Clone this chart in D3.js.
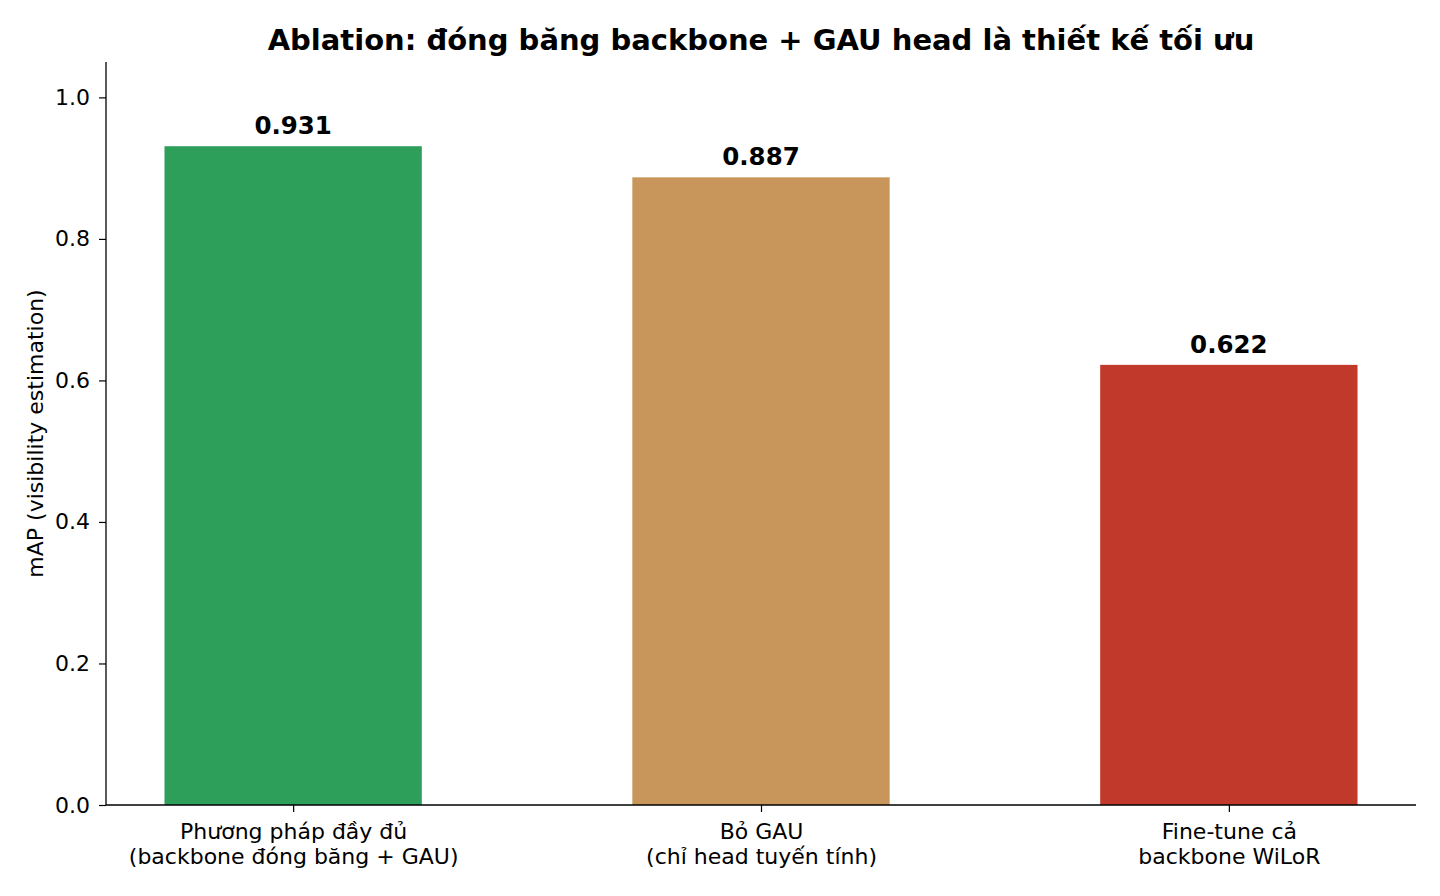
<!DOCTYPE html>
<head>
  <meta charset="utf-8">
  <script src="https://d3js.org/d3.v7.min.js"></script>
  <style>
    body { margin: 0; background: #fff; }
    text { font-family: "DejaVu Sans", sans-serif; }
  </style>
</head>
<body>
  <script type="text/javascript">
    var w = 1440;
    var h = 896;

    var categories = [
      ["Phương pháp đầy đủ", "(backbone đóng băng + GAU)"],
      ["Bỏ GAU", "(chỉ head tuyến tính)"],
      ["Fine-tune cả", "backbone WiLoR"]
    ];
    var values = [0.931, 0.887, 0.622];
    var barColors = ["#2e9e5b", "#c8965a", "#c0392b"];
    var yTicks = [0.0, 0.2, 0.4, 0.6, 0.8, 1.0];

    var padL = 106, padR = 1416, padT = 62, padB = 805;

    var svg = d3.select("body")
      .append("svg")
      .attr("width", w)
      .attr("height", h);

    var xScale = d3.scaleLinear()
                   .domain([-0.4, 2.4])
                   .range([padL, padR]);

    var yScale = d3.scaleLinear()
                   .domain([0, 1.05])
                   .range([padB, padT]);

    var barW = xScale(0.55) - xScale(0);

    svg.selectAll("rect.bar")
      .data(values)
      .enter()
      .append("rect")
      .attr("class", "bar")
      .attr("x", function(d, i){ return xScale(i) - barW / 2; })
      .attr("y", function(d){ return yScale(d); })
      .attr("width", barW)
      .attr("height", function(d){ return padB - yScale(d); })
      .attr("fill", function(d, i){ return barColors[i]; });

    // value labels
    svg.selectAll("text.val")
      .data(values)
      .enter()
      .append("text")
      .attr("class", "val")
      .attr("x", function(d, i){ return xScale(i); })
      .attr("y", function(d){ return yScale(d) - 12; })
      .attr("text-anchor", "middle")
      .attr("font-size", "24.5px")
      .attr("font-weight", "bold")
      .text(function(d){ return d.toFixed(3); });

    // y axis
    var yAxis = d3.axisLeft(yScale)
                  .tickValues(yTicks)
                  .tickSize(7)
                  .tickPadding(9)
                  .tickFormat(d3.format(".1f"));
    var gy = svg.append("g")
      .attr("transform", "translate(" + padL + ",0)")
      .call(yAxis);
    gy.select(".domain").attr("stroke", "#000").attr("stroke-width", 1.3)
      .attr("d", "M0," + padB + "V" + padT);
    gy.selectAll(".tick line").attr("stroke", "#000").attr("stroke-width", 1.2);
    gy.selectAll(".tick text").attr("font-size", "22px").attr("fill", "#000")
      .attr("font-family", "DejaVu Sans");

    // x axis
    var xAxis = d3.axisBottom(xScale)
                  .tickValues(d3.range(categories.length))
                  .tickSize(7)
                  .tickFormat("");
    var gx = svg.append("g")
      .attr("transform", "translate(0," + padB + ")")
      .call(xAxis);
    gx.select(".domain").attr("stroke", "#000").attr("stroke-width", 1.3)
      .attr("d", "M" + padL + ",0H" + padR);
    gx.selectAll(".tick line").attr("stroke", "#000").attr("stroke-width", 1.2);

    gx.selectAll(".tick").each(function(d, i){
      var t = d3.select(this).append("text")
        .attr("text-anchor", "middle")
        .attr("fill", "#000")
        .attr("font-size", "22px")
        .attr("font-family", "DejaVu Sans");
      categories[i].forEach(function(line, k){
        t.append("tspan")
          .attr("x", 0)
          .attr("y", 34 + k * 25)
          .text(line);
      });
    });

    // y label
    svg.append("text")
      .attr("transform", "translate(43," + ((padT + padB) / 2) + ") rotate(-90)")
      .attr("text-anchor", "middle")
      .attr("font-size", "22px")
      .text("mAP (visibility estimation)");

    // title
    svg.append("text")
      .attr("x", (padL + padR) / 2)
      .attr("y", 50)
      .attr("text-anchor", "middle")
      .attr("font-size", "29px")
      .attr("font-weight", "bold")
      .text("Ablation: đóng băng backbone + GAU head là thiết kế tối ưu");
  </script>
</body>
